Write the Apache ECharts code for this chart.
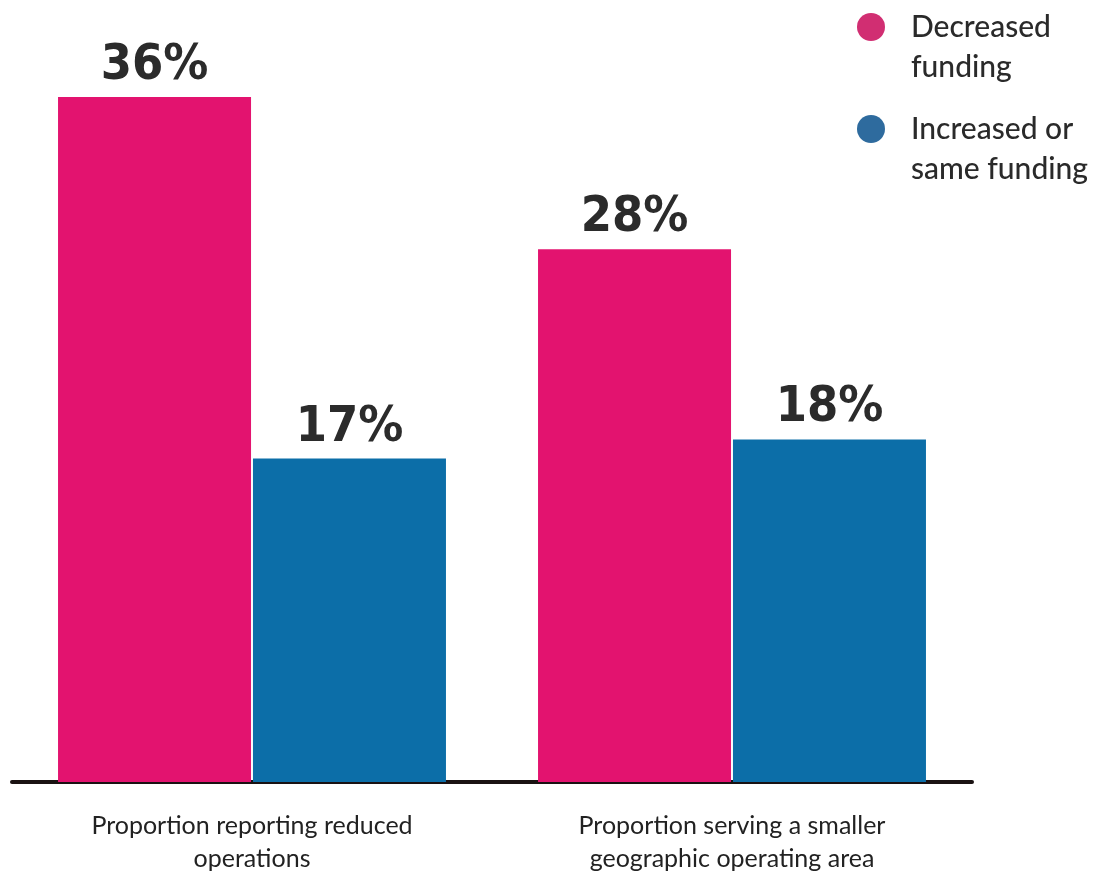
<!DOCTYPE html>
<html>
<head>
<meta charset="utf-8">
<script src="https://cdn.jsdelivr.net/npm/echarts@6/dist/echarts.min.js"></script>
<style>html,body{margin:0;padding:0;background:#fff}#c{width:1097px;height:875px}</style>
</head>
<body>
<div id="c"></div>
<script>
const categories = ['Proportion reporting reduced\noperations', 'Proportion serving a smaller\ngeographic operating area'];
const seriesNames = ['Decreased\nfunding', 'Increased or\nsame funding'];
const decreasedFunding = [36, 28];
const increasedOrSameFunding = [17, 18];

const chart = echarts.init(document.getElementById('c'));
const labelStyle = {
  show: true, position: 'top', distance: 6,
  formatter: '{c}%',
  fontFamily: 'DejaVu Sans Condensed, Liberation Sans Narrow, sans-serif',
  fontWeight: 'bold', fontSize: 50, color: '#2b2b2b'
};
chart.setOption({
  animation: false,
  backgroundColor: '#fff',
  legend: {
    orient: 'vertical', left: 857, top: -33, padding: 0, itemGap: -18,
    itemWidth: 28, itemHeight: 28, icon: 'circle',
    formatter: function (name) { return ' \n' + name; },
    textStyle: { fontFamily: 'Lato, Open Sans, sans-serif', fontSize: 30, lineHeight: 40, color: '#2a2a2a', fontWeight: 500, padding: [0, 0, 0, 21] },
    data: [
      { name: seriesNames[0], itemStyle: { color: '#D12E72' } },
      { name: seriesNames[1], itemStyle: { color: '#2E6B9E' } }
    ]
  },
  grid: { left: 12, right: 125, top: 97, bottom: 92 },
  xAxis: {
    type: 'category', data: categories,
    axisLine: { lineStyle: { color: '#1a1212', width: 4 } },
    axisTick: { show: false },
    axisLabel: { margin: 27, fontSize: 25, lineHeight: 33, color: '#222', fontFamily: 'Lato, Open Sans, sans-serif' }
  },
  yAxis: { type: 'value', min: 0, max: 36, show: false, splitLine: { show: false } },
  series: [
    { name: seriesNames[0], type: 'bar', data: decreasedFunding, barWidth: 193, barGap: '1%',
      itemStyle: { color: '#E3136F' }, label: labelStyle },
    { name: seriesNames[1], type: 'bar', data: increasedOrSameFunding, barWidth: 193,
      itemStyle: { color: '#0C6EA8' }, label: labelStyle }
  ]
});
</script>
</body>
</html>
